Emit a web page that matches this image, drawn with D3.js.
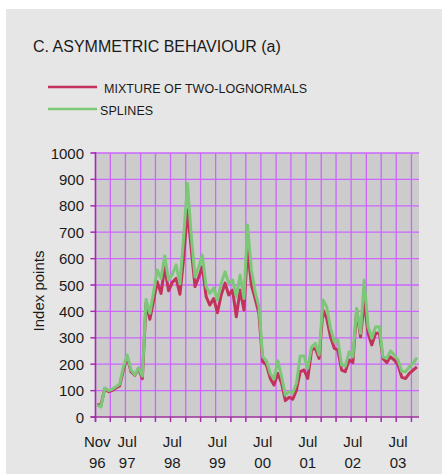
<!DOCTYPE html>
<html lang="en">
<head>
<meta charset="UTF-8">
<title>C. Asymmetric behaviour (a)</title>
<script src="https://d3js.org/d3.v7.min.js"></script>
<style>
html,body{margin:0;padding:0;background:#fff}
svg{display:block;font-family:"Liberation Sans",Arial,sans-serif}
.tick-lbl{font-size:15px;fill:#1a1a1a}
</style>
</head>
<body>
<svg id="chart" width="442" height="474"></svg>
<script>
// monthly observations, Nov 1996 .. Dec 2003 (index points)
var startMonth = new Date(1996, 10, 15);
var mixture = [48, 44, 108, 96, 100, 110, 118, 178, 228, 172, 158, 184, 145,
  432, 370, 443, 512, 468, 567, 478, 510, 525, 465, 600, 784, 640, 494, 531, 569,
  456, 424, 449, 395, 462, 507, 462, 481, 380, 481, 405, 639, 500, 449, 392,
  210, 197, 146, 121, 165, 128, 62, 75, 67, 102, 172, 178, 146, 254, 260, 222,
  405, 374, 304, 260, 254, 178, 172, 216, 206, 405, 304, 437, 317, 273, 317, 317,
  222, 206, 228, 216, 197, 150, 146, 165, 178, 190];
var splines = [45, 38, 110, 100, 105, 115, 124, 190, 235, 178, 160, 186, 155,
  445, 393, 475, 557, 525, 610, 519, 540, 576, 505, 680, 885, 690, 531, 569, 614,
  494, 468, 488, 443, 507, 550, 507, 519, 456, 538, 449, 727, 557, 475, 418,
  228, 213, 165, 143, 213, 153, 83, 96, 90, 128, 231, 231, 184, 266, 279, 235,
  443, 418, 336, 285, 292, 197, 193, 247, 228, 412, 317, 519, 342, 298, 342, 342,
  228, 222, 251, 235, 216, 172, 172, 190, 203, 225];
var tickMonths = ['Nov', 'Jul', 'Jul', 'Jul', 'Jul', 'Jul', 'Jul', 'Jul'];
var tickYears = ['96', '97', '98', '99', '00', '01', '02', '03'];
var yTicks = [0, 100, 200, 300, 400, 500, 600, 700, 800, 900, 1000];
var seriesNames = ['MIXTURE OF TWO-LOGNORMALS', 'SPLINES'];
var seriesColors = ['#c3325c', '#7cc878'];

var dates = mixture.map(function(d, i) { return d3.timeMonth.offset(startMonth, i); });
var tickDates = [new Date(1996, 10, 15)].concat(tickYears.slice(1).map(function(y) {
  return new Date(+y < 50 ? 2000 + +y : 1900 + +y, 6, 15);
}));

var svg = d3.select('#chart');
var L = 95.5, R = 419, T = 153, B = 417;

var x = d3.scaleTime().domain([new Date(1996, 10, 1), new Date(2004, 0, 1)]).range([L, R]);
var y = d3.scaleLinear().domain([0, 1000]).range([B, T]);

// panel
svg.append('rect').attr('x', 6).attr('y', 9).attr('width', 436).attr('height', 465).attr('fill', '#e6e6e6');

svg.append('text').attr('x', 33).attr('y', 52).attr('font-size', 16).attr('fill', '#1a1a1a')
  .text('C. ASYMMETRIC BEHAVIOUR (a)');

// legend
var legY = [87, 109], legTX = [104, 100];
seriesNames.forEach(function(n, i) {
  svg.append('line').attr('x1', 48).attr('x2', 97).attr('y1', legY[i]).attr('y2', legY[i])
    .attr('stroke', seriesColors[i]).attr('stroke-width', 2.5);
  svg.append('text').attr('x', legTX[i]).attr('y', legY[i] + 6).attr('font-size', 12.5)
    .attr('fill', '#1a1a1a').attr('letter-spacing', 0.05).text(n);
});

// plot background + grid
svg.append('rect').attr('x', L).attr('y', T).attr('width', R - L).attr('height', B - T).attr('fill', '#cccccc');

var gridX = d3.timeMonth.range(new Date(1996, 10, 1), new Date(2003, 11, 1), 4);
svg.append('g').selectAll('line').data(gridX).join('line')
  .attr('x1', function(d) { return x(d); }).attr('x2', function(d) { return x(d); })
  .attr('y1', T).attr('y2', B + 5)
  .attr('stroke', '#cc66ff').attr('stroke-width', 1.3);
svg.append('g').selectAll('line').data(yTicks.slice(1)).join('line')
  .attr('x1', L - 5).attr('x2', R)
  .attr('y1', function(d) { return y(d); }).attr('y2', function(d) { return y(d); })
  .attr('stroke', '#cc66ff').attr('stroke-width', 1.3);

// axes lines
svg.append('line').attr('x1', L).attr('x2', L).attr('y1', T - 1).attr('y2', B + 5)
  .attr('stroke', '#a0309f').attr('stroke-width', 1.5);
svg.append('line').attr('x1', L - 5).attr('x2', R).attr('y1', B).attr('y2', B)
  .attr('stroke', '#a0309f').attr('stroke-width', 1.5);
svg.append('g').selectAll('line').data(gridX).join('line')
  .attr('x1', function(d) { return x(d); }).attr('x2', function(d) { return x(d); })
  .attr('y1', B).attr('y2', B + 5).attr('stroke', '#a0309f').attr('stroke-width', 1.3);
svg.append('g').selectAll('line').data(yTicks).join('line')
  .attr('x1', L - 5).attr('x2', L).attr('y1', function(d) { return y(d); }).attr('y2', function(d) { return y(d); })
  .attr('stroke', '#a0309f').attr('stroke-width', 1.3);

// y labels
svg.append('g').selectAll('text').data(yTicks).join('text')
  .attr('class', 'tick-lbl').attr('x', 84).attr('y', function(d) { return y(d) + 5.5; })
  .attr('text-anchor', 'end').text(function(d) { return d; });

svg.append('text').attr('class', 'tick-lbl')
  .attr('transform', 'translate(44,291) rotate(-90)').attr('text-anchor', 'middle')
  .text('Index points');

// x labels
var xl = svg.append('g').selectAll('g').data(tickDates).join('g')
  .attr('transform', function(d) { return 'translate(' + x(d) + ',0)'; });
xl.append('text').attr('class', 'tick-lbl').attr('y', 447).attr('text-anchor', 'middle')
  .text(function(d, i) { return tickMonths[i]; });
xl.append('text').attr('class', 'tick-lbl').attr('y', 468).attr('text-anchor', 'middle')
  .text(function(d, i) { return tickYears[i]; });

// series
var line = d3.line().x(function(d) { return x(d[0]); }).y(function(d) { return y(d[1]); });
[mixture, splines].forEach(function(s, i) {
  svg.append('path').datum(s.map(function(v, j) { return [dates[j], v]; }))
    .attr('d', line).attr('fill', 'none').attr('stroke', seriesColors[i])
    .attr('stroke-width', 3).attr('stroke-linejoin', 'round');
});
</script>
</body>
</html>
